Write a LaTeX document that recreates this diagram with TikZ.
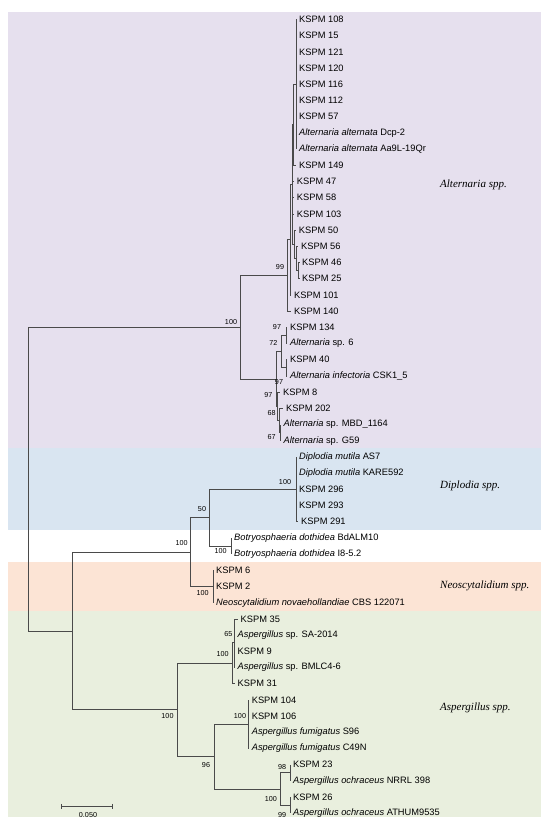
\documentclass[tikz,border=0pt]{standalone}
\usepackage{fontspec}
\setmainfont{Liberation Sans}
\newfontfamily\serifit{Liberation Serif}
\definecolor{altbg}{HTML}{E6E0EE}
\definecolor{dipbg}{HTML}{D9E5F1}
\definecolor{neobg}{HTML}{FCE4D5}
\definecolor{aspbg}{HTML}{E9EFDE}
\definecolor{treeline}{HTML}{4A4A4A}

\begin{document}
\begin{tikzpicture}[x=1pt,y=-1pt,
        edge/.style={draw=treeline,line width=0.7pt},
        leaf/.style={anchor=west,inner xsep=3pt,inner ysep=0pt,font=\fontsize{9.3}{11}\selectfont},
        boot/.style={inner sep=0pt,font=\fontsize{7.2}{8}\selectfont},
        clade/.style={anchor=west,inner sep=0pt,font=\serifit\itshape\fontsize{11}{13}\selectfont}]
        \useasboundingbox (0,0) rectangle (550,824);

        % Clade backgrounds
        \fill[altbg] (8,12) rectangle (541,448);
        \fill[dipbg] (8,448) rectangle (541,529.5);
        \fill[neobg] (8,562) rectangle (541,610.5);
        \fill[aspbg] (8,610.5) rectangle (541,817);

        % Leaves (tip x / label)
        \foreach \tx/\txt [count=\i] in {
            296/KSPM 108, 296/KSPM 15, 296/KSPM 121, 296/KSPM 120, 296/KSPM 116,
            296/KSPM 112, 296/KSPM 57,
            296/\textit{Alternaria alternata} Dcp-2,
            296/\textit{Alternaria alternata} Aa9L-19Qr,
            296/KSPM 149, 293.7/KSPM 47, 293.7/KSPM 58, 293.7/KSPM 103,
            295.7/KSPM 50, 298/KSPM 56, 299/KSPM 46, 299/KSPM 25,
            291/KSPM 101, 291/KSPM 140,
            287/KSPM 134, 287/\textit{Alternaria} sp. 6, 287/KSPM 40,
            287/\textit{Alternaria infectoria} CSK1\_5,
            280/KSPM 8, 283/KSPM 202,
            280.5/\textit{Alternaria} sp. MBD\_1164,
            280.5/\textit{Alternaria} sp. G59,
            296/\textit{Diplodia mutila} AS7,
            296/\textit{Diplodia mutila} KARE592,
            296/KSPM 296, 296/KSPM 293, 298/KSPM 291,
            231/\textit{Botryosphaeria dothidea} BdALM10,
            231/\textit{Botryosphaeria dothidea} I8-5.2,
            213/KSPM 6, 213/KSPM 2,
            213/\textit{Neoscytalidium novaehollandiae} CBS 122071,
            237.5/KSPM 35, 234.5/\textit{Aspergillus} sp. SA-2014,
            234.5/KSPM 9, 234.5/\textit{Aspergillus} sp. BMLC4-6, 234.5/KSPM 31,
            248.6/KSPM 104, 248.6/KSPM 106,
            248.6/\textit{Aspergillus fumigatus} S96,
            248.6/\textit{Aspergillus fumigatus} C49N,
            290/KSPM 23, 290/\textit{Aspergillus ochraceus} NRRL 398,
            290/KSPM 26, 290/\textit{Aspergillus ochraceus} ATHUM9535}
            \node[leaf] (l\i) at (\tx,{19.5+16.2*(\i-1)}) {\txt};

        % Internal nodes
        \coordinate (n1) at (296,84.3);
        \coordinate (n2) at (293.5,124.8);
        \coordinate (n5) at (298.5,270.6);
        \coordinate (n6) at (296.5,258.4);
        \coordinate (n7) at (294.5,244.3);
        \coordinate (n8) at (292,184.6);
        \coordinate (n9) at (290,239.7);
        \coordinate (n99) at (287.5,275.4);
        \coordinate (na) at (286,335.4);
        \coordinate (nc) at (286,367.8);
        \coordinate (nb) at (281.7,351.6);
        \coordinate (ng) at (280.5,432.6);
        \coordinate (nf) at (279.5,420.5);
        \coordinate (ne) at (277.5,406.3);
        \coordinate (nd) at (276.5,379);
        \coordinate (nalt) at (240,327.2);
        \coordinate (ndip) at (296,489.3);
        \coordinate (nbot) at (231,546);
        \coordinate (n50) at (209.3,517.7);
        \coordinate (nneo) at (213,586.5);
        \coordinate (nbd) at (190.7,552.1);
        \coordinate (n65) at (234.5,642);
        \coordinate (nsp) at (232.7,662.9);
        \coordinate (nfum) at (248.6,724.2);
        \coordinate (n98) at (290,772.8);
        \coordinate (n99b) at (290,805.2);
        \coordinate (noch) at (280.3,789);
        \coordinate (n96) at (214.4,756.6);
        \coordinate (nasp) at (177,709.7);
        \coordinate (nx) at (72.6,630.9);
        \coordinate (root) at (28,479);

        % Alternaria branches
        \foreach \c in {1,...,9} \draw[edge] (n1) |- (l\c.west);
        \draw[edge] (n2) |- (n1);
        \draw[edge] (n2) |- (l10.west);
        \draw[edge] (n5) |- (l16.west);
        \draw[edge] (n5) |- (l17.west);
        \draw[edge] (n6) |- (l15.west);
        \draw[edge] (n6) |- (n5);
        \draw[edge] (n7) |- (l14.west);
        \draw[edge] (n7) |- (n6);
        \draw[edge] (n8) |- (n2);
        \foreach \c in {11,12,13} \draw[edge] (n8) |- (l\c.west);
        \draw[edge] (n8) |- (n7);
        \draw[edge] (n9) |- (n8);
        \draw[edge] (n9) |- (l18.west);
        \draw[edge] (n99) |- (n9);
        \draw[edge] (n99) |- (l19.west);
        \draw[edge] (na) |- (l20.west);
        \draw[edge] (na) |- (l21.west);
        \draw[edge] (nc) |- (l22.west);
        \draw[edge] (nc) |- (l23.west);
        \draw[edge] (nb) |- (na);
        \draw[edge] (nb) |- (nc);
        \draw[edge] (ng) |- (l26.west);
        \draw[edge] (ng) |- (l27.west);
        \draw[edge] (nf) |- (l25.west);
        \draw[edge] (nf) |- (ng);
        \draw[edge] (ne) |- (l24.west);
        \draw[edge] (ne) |- (nf);
        \draw[edge] (nd) |- (nb);
        \draw[edge] (nd) |- (ne);
        \draw[edge] (nalt) |- (n99);
        \draw[edge] (nalt) |- (nd);

        % Diplodia, Botryosphaeria, Neoscytalidium
        \foreach \c in {28,...,32} \draw[edge] (ndip) |- (l\c.west);
        \draw[edge] (nbot) |- (l33.west);
        \draw[edge] (nbot) |- (l34.west);
        \draw[edge] (n50) |- (ndip);
        \draw[edge] (n50) |- (nbot);
        \foreach \c in {35,36,37} \draw[edge] (nneo) |- (l\c.west);
        \draw[edge] (nbd) |- (n50);
        \draw[edge] (nbd) |- (nneo);

        % Aspergillus branches
        \foreach \c in {38,...,41} \draw[edge] (n65) |- (l\c.west);
        \draw[edge] (nsp) |- (n65);
        \draw[edge] (nsp) |- (l42.west);
        \foreach \c in {43,...,46} \draw[edge] (nfum) |- (l\c.west);
        \draw[edge] (n98) |- (l47.west);
        \draw[edge] (n98) |- (l48.west);
        \draw[edge] (n99b) |- (l49.west);
        \draw[edge] (n99b) |- (l50.west);
        \draw[edge] (noch) |- (n98);
        \draw[edge] (noch) |- (n99b);
        \draw[edge] (n96) |- (nfum);
        \draw[edge] (n96) |- (noch);
        \draw[edge] (nasp) |- (nsp);
        \draw[edge] (nasp) |- (n96);

        % Backbone
        \draw[edge] (nx) |- (nbd);
        \draw[edge] (nx) |- (nasp);
        \draw[edge] (root) |- (nalt);
        \draw[edge] (root) |- (nx);

        % Bootstrap values
        \node[boot] (b1) at (231,322) {100};
        \node[boot] (b2) at (280,267) {99};
        \node[boot] (b3) at (277,327) {97};
        \node[boot] (b4) at (273.3,343.3) {72};
        \node[boot] (b5) at (279,381.7) {97};
        \node[boot] (b6) at (268.3,395) {97};
        \node[boot] (b7) at (271.7,413.3) {68};
        \node[boot] (b8) at (271.7,436.7) {67};
        \node[boot] (b9) at (285,481.7) {100};
        \node[boot] (b10) at (202,509) {50};
        \node[boot] (b11) at (181.7,543) {100};
        \node[boot] (b12) at (220.7,551) {100};
        \node[boot] (b13) at (202.7,593.5) {100};
        \node[boot] (b14) at (228.3,634) {65};
        \node[boot] (b15) at (222.7,654.3) {100};
        \node[boot] (b16) at (167.5,716.4) {100};
        \node[boot] (b17) at (240,716.4) {100};
        \node[boot] (b18) at (206,765) {96};
        \node[boot] (b19) at (282,767) {98};
        \node[boot] (b20) at (270.8,798.6) {100};
        \node[boot] (b21) at (282,815) {99};

        % Clade names
        \node[clade] (alt) at (440,185) {Alternaria spp.};
        \node[clade] (dip) at (440,486) {Diplodia spp.};
        \node[clade] (neo) at (440,586) {Neoscytalidium spp.};
        \node[clade] (asp) at (440,707.6) {Aspergillus spp.};

        % Scale bar
        \coordinate (sbl) at (61.7,806.4);
        \coordinate (sbr) at (112.1,806.4);
        \draw[edge] (sbl) -- (sbr);
        \draw[edge] ([yshift=2.5pt]sbl) -- ([yshift=-2.5pt]sbl);
        \draw[edge] ([yshift=2.5pt]sbr) -- ([yshift=-2.5pt]sbr);
        \node[boot] (sblab) at (88,815) {0.050};
\end{tikzpicture}
\end{document}
